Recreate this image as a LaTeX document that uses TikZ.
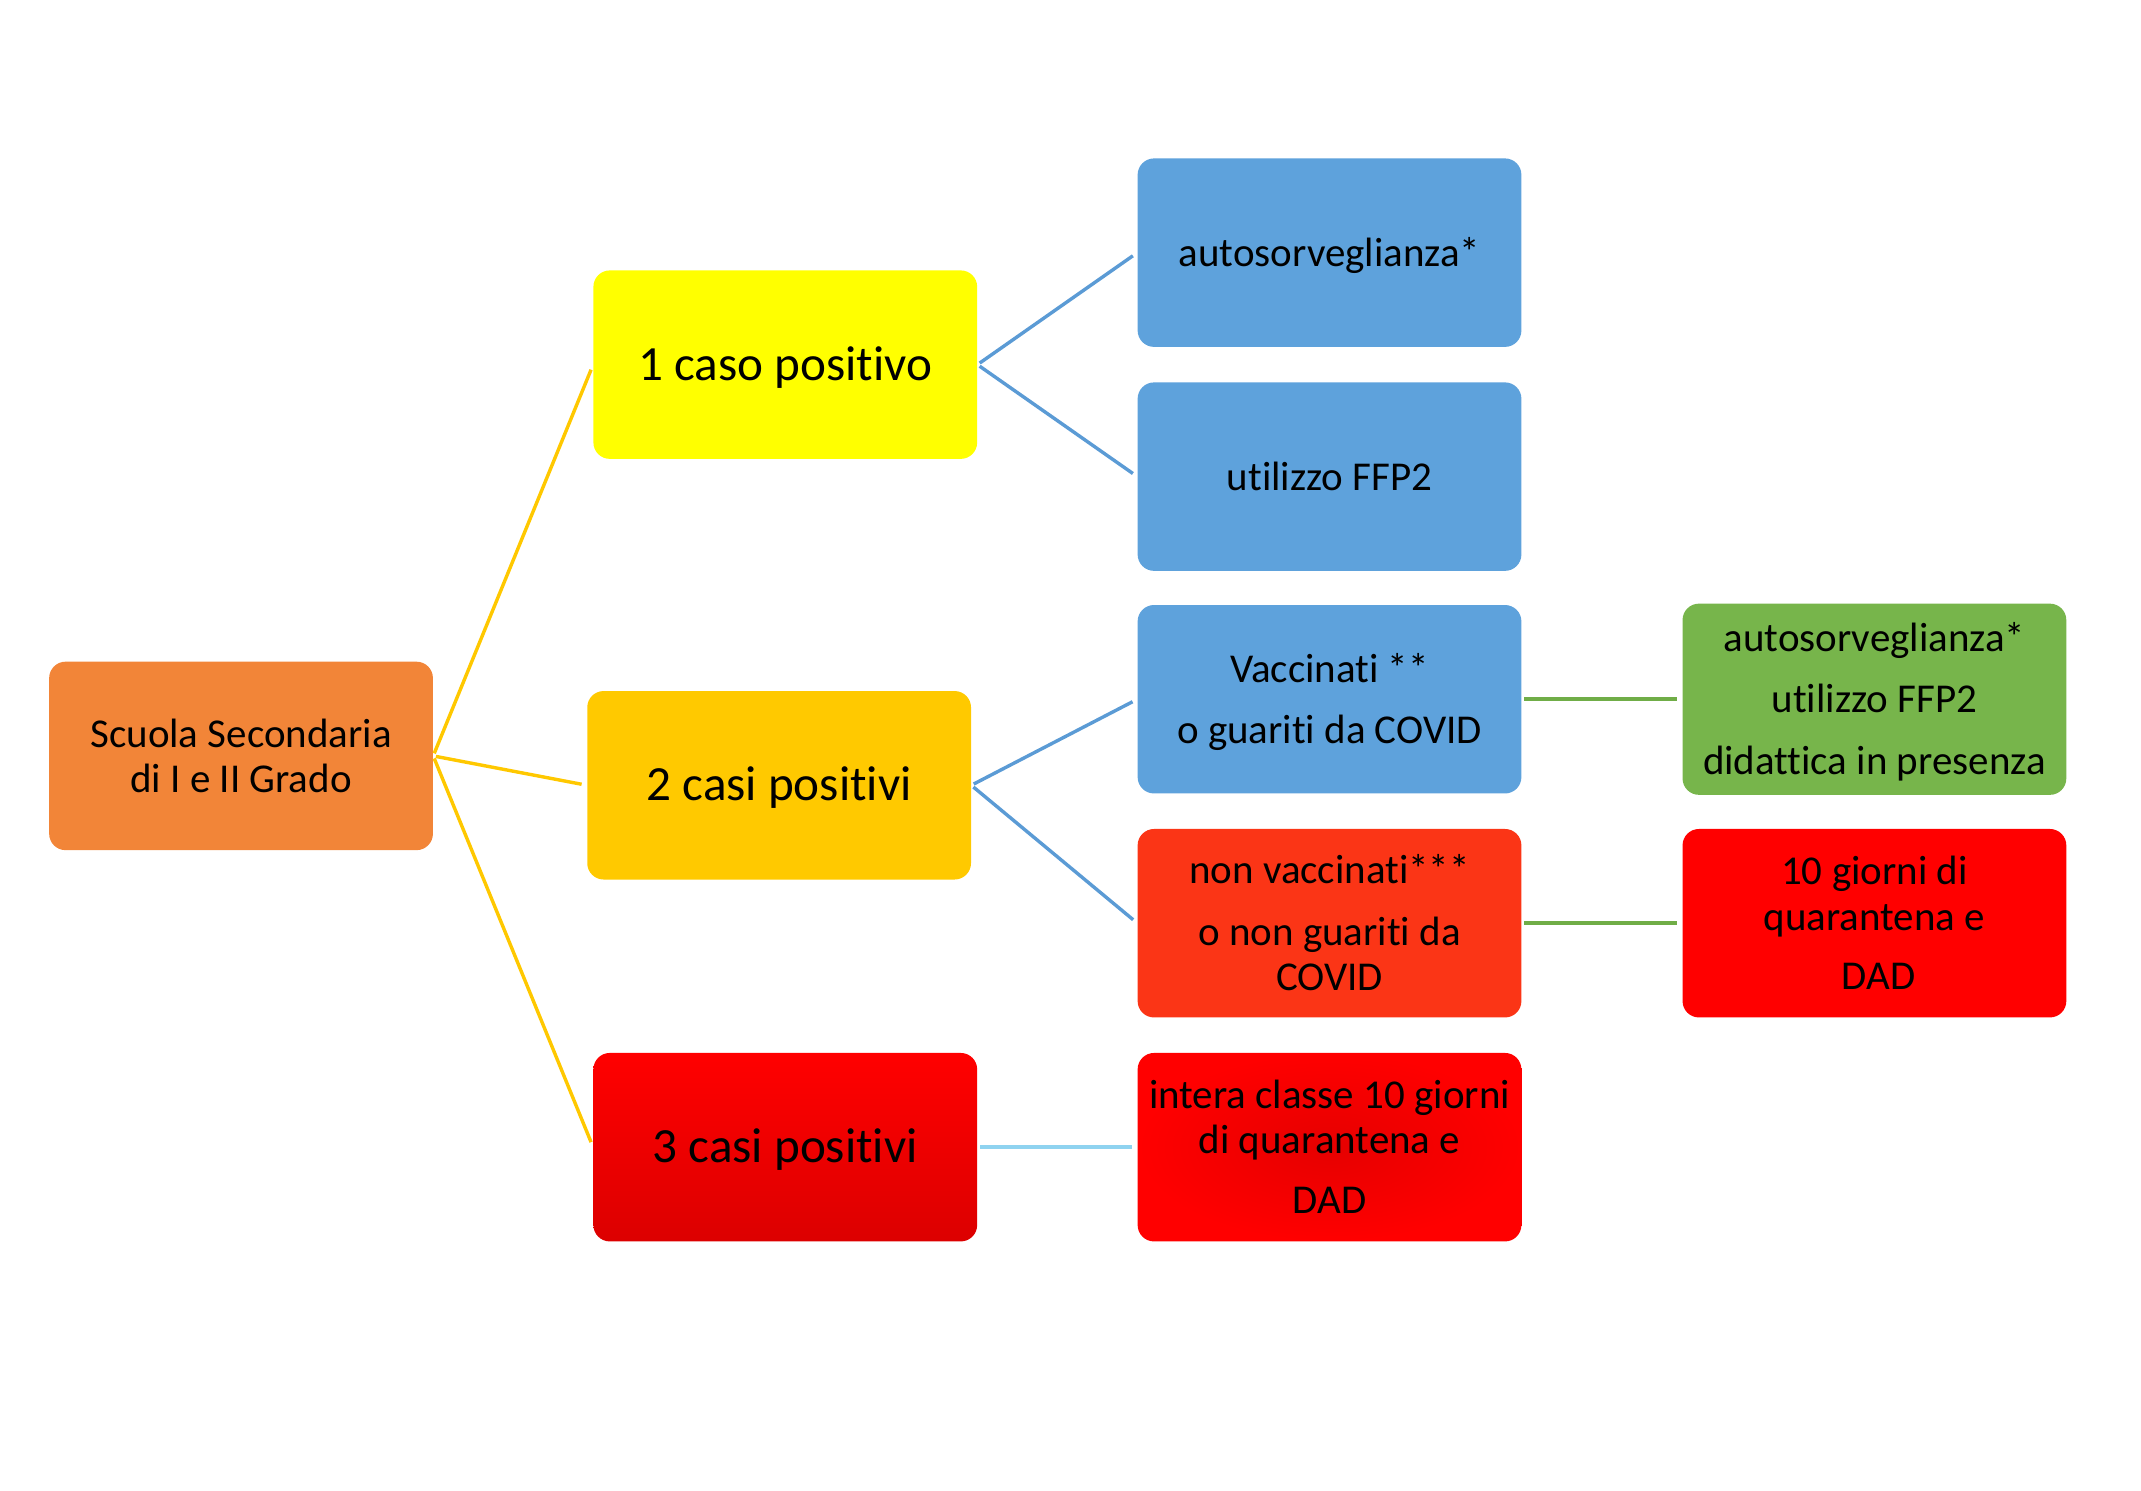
\documentclass[tikz,border=0pt]{standalone}
\usepackage{fontspec}
\setmainfont[Ligatures={NoCommon,NoContextual,NoRare}]{Carlito}
\definecolor{corange}{HTML}{F28538}
\definecolor{cyellow}{HTML}{FFFF00}
\definecolor{camber}{HTML}{FFC900}
\definecolor{cred}{HTML}{FF0000}
\definecolor{cdred}{HTML}{DC0000}
\definecolor{cmred}{HTML}{E60000}
\definecolor{cblue}{HTML}{5EA2DC}
\definecolor{cverm}{HTML}{FB3516}
\definecolor{cgreen}{HTML}{77B54B}
\definecolor{lgold}{HTML}{FFC800}
\definecolor{lblue}{HTML}{5B9BD5}
\definecolor{lgreen}{HTML}{70AD47}
\definecolor{lsky}{HTML}{8FD3F0}
\newcommand{\stA}{\rule{0pt}{35pt}}
\newcommand{\stB}{\rule[-15pt]{0pt}{15pt}}
\newcommand{\stS}{\rule[-15pt]{0pt}{50pt}}
\newcommand{\stL}{\rule[-17pt]{0pt}{57pt}}
\begin{document}
\begin{tikzpicture}[x=1pt,y=-1pt,
  box/.style={rectangle, rounded corners=12pt, minimum width=281pt,
    minimum height=138pt, inner sep=0pt, align=center, text=black,
    font=\fontsize{30}{33}\selectfont},
  bigbox/.style={box, font=\fontsize{36}{40}\selectfont},
  link/.style={line width=2.5pt, shorten <=2pt, shorten >=4pt}]
\useasboundingbox (0,0) rectangle (1567.7,1091.5);
% nodes
\node[box, fill=corange] (root) at (176.5,553.5) {\stA Scuola Secondaria\\ di I e II Grado\stB};
\node[bigbox, fill=cyellow] (c1) at (575,267) {\stL 1 caso positivo};
\node[bigbox, fill=camber] (c2) at (570.5,575) {\stL 2 casi positivi};
\node[bigbox, top color=cred, middle color=cred, bottom color=cdred] (c3) at (575,840) {\stL 3 casi positivi};
\node[box, fill=cblue] (b1) at (973.5,185) {\stS autosorveglianza*};
\node[box, fill=cblue] (b2) at (973.5,349) {\stS utilizzo FFP2};
\node[box, fill=cblue] (b3) at (973.5,512) {\stA Vaccinati **\\[12pt] o guariti da COVID\stB};
\node[box, fill=cverm] (b4) at (973.5,676) {\stA non vaccinati***\\[12pt] o non guariti da\\ COVID\stB};
\node[box, inner color=cmred, outer color=cred] (b5) at (973.5,840) {\stA intera classe 10 giorni\\ di quarantena e\\[11pt] DAD\stB};
\node[box, fill=cgreen] (g1) at (1372.5,512) {\stA autosorveglianza*\\[12pt] utilizzo FFP2\\[12pt] didattica in presenza\stB};
\node[box, fill=cred] (r1) at (1372.5,676) {\stA 10 giorni di\\[1pt] quarantena e\\[10pt] \hspace*{6pt}DAD\stB};
% connectors
\draw[link, lgold] (root.east) -- (c1.west);
\draw[link, lgold] (root.east) -- (c2.west);
\draw[link, lgold] (root.east) -- (c3.west);
\draw[link, lblue] (c1.east) -- (b1.west);
\draw[link, lblue] (c1.east) -- (b2.west);
\draw[link, lblue] (c2.east) -- (b3.west);
\draw[link, lblue] (c2.east) -- (b4.west);
\draw[link, lgreen, line width=3pt] (b3.east) -- (g1.west);
\draw[link, lgreen, line width=3pt] (b4.east) -- (r1.west);
\draw[link, lsky, line width=3pt] (c3.east) -- (b5.west);
\end{tikzpicture}
\end{document}
